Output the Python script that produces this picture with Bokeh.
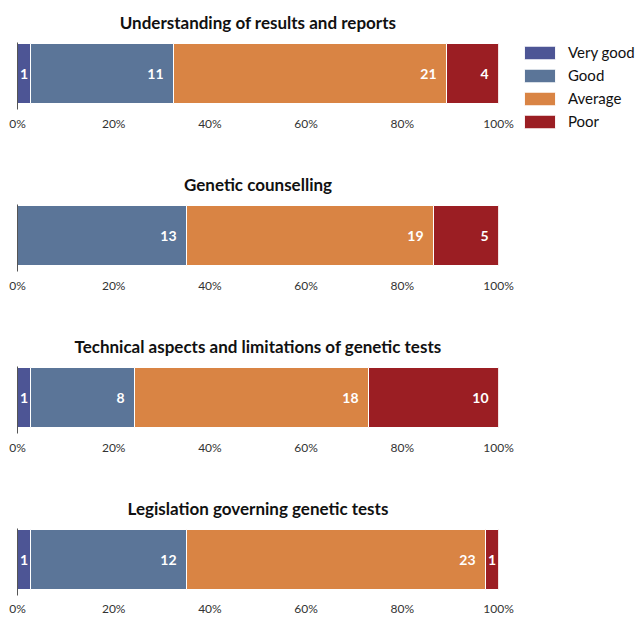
import numpy as np
from bokeh.plotting import figure
from bokeh.layouts import column
from bokeh.models import Range1d, FixedTicker, Legend, LegendItem, ColumnDataSource
from bokeh.core.properties import value
from bokeh.embed import file_html
from bokeh.resources import INLINE

titles = ["Understanding of results and reports",
          "Genetic counselling",
          "Technical aspects and limitations of genetic tests",
          "Legislation governing genetic tests"]
categories = ["Very good", "Good", "Average", "Poor"]
very_good = [1, 0, 1, 1]
good = [11, 13, 8, 12]
average = [21, 19, 18, 23]
poor = [4, 5, 10, 1]
tick_values = [0, 20, 40, 60, 80, 100]
tick_labels = ["0%", "20%", "40%", "60%", "80%", "100%"]
colors = ["#4D5595", "#5B7598", "#D98444", "#9B1E23"]

FONT = "Lato"
bottoms = [53, 53, 53, 18]
standoffs = [6, 6, 6, 5]
figs = []
for i, t in enumerate(titles):
    counts = [very_good[i], good[i], average[i], poor[i]]
    total = sum(counts)
    pct = [c / total * 100 for c in counts]
    right = list(np.cumsum(pct))
    left = [0.0] + right[:-1]
    keep = [k for k in range(4) if counts[k] > 0]
    bars = ColumnDataSource(dict(
        left=[left[k] for k in keep], right=[right[k] for k in keep],
        color=[colors[k] for k in keep]))
    wide = [k for k in keep if pct[k] >= 5]
    narrow = [k for k in keep if pct[k] < 5]
    wide_src = ColumnDataSource(dict(x=[right[k] for k in wide], text=[str(counts[k]) for k in wide]))
    narrow_src = ColumnDataSource(dict(x=[(left[k] + right[k]) / 2 for k in narrow],
                                       text=[str(counts[k]) for k in narrow]))

    p = figure(frame_width=481, frame_height=67, x_range=Range1d(0, 100), y_range=Range1d(-0.6, 0.5167),
               output_backend="svg", toolbar_location=None, title=t,
               min_border_left=17, min_border_right=142, min_border_top=0,
               min_border_bottom=bottoms[i])
    p.title.text_font = FONT
    p.title.text_font_style = "bold"
    p.title.text_font_size = "17px"
    p.title.align = "center"
    p.title.text_color = "#111111"
    p.title.standoff = 19
    p.outline_line_color = None
    p.grid.visible = False

    xa = p.xaxis[0]
    xa.ticker = FixedTicker(ticks=tick_values)
    xa.major_label_overrides = {v: l for v, l in zip(tick_values, tick_labels)}
    xa.axis_line_color = None
    xa.major_tick_line_color = None
    xa.minor_tick_line_color = None
    xa.major_tick_out = 0
    xa.major_label_standoff = standoffs[i]
    xa.major_label_text_font = FONT
    xa.major_label_text_font_size = "12px"
    xa.major_label_text_color = "#333333"

    ya = p.yaxis[0]
    ya.ticker = FixedTicker(ticks=[])
    ya.axis_line_color = "#555555"
    ya.major_tick_line_color = None
    ya.minor_tick_line_color = None
    ya.major_tick_out = 0
    ya.major_tick_in = 0
    ya.major_label_standoff = 0

    r = p.hbar(y=0, left="left", right="right", height=1.0, fill_color="color",
               line_color="white", line_width=1, source=bars)
    p.text(x="x", y=0, text="text", source=wide_src, text_align="right", text_baseline="middle",
           x_offset=-10, text_color="white", text_font=value(FONT), text_font_style="bold",
           text_font_size="14px")
    p.text(x="x", y=0, text="text", source=narrow_src, text_align="center", text_baseline="middle",
           text_color="white", text_font=value(FONT), text_font_style="bold", text_font_size="14px")

    if i == 0:
        legend = Legend(items=[LegendItem(label=categories[k], renderers=[r], index=n)
                               for n, k in enumerate(keep)],
                        location=(22, -21), padding=0, margin=0, spacing=5,
                        glyph_width=39, glyph_height=17, label_height=18, label_standoff=9,
                        label_text_font=FONT, label_text_font_size="15px", label_text_color="#111111",
                        border_line_color=None, background_fill_alpha=0)
        p.add_layout(legend, "right")
    figs.append(p)

layout = column(*figs, spacing=0)
open("out.html", "w").write(file_html(layout, INLINE))
